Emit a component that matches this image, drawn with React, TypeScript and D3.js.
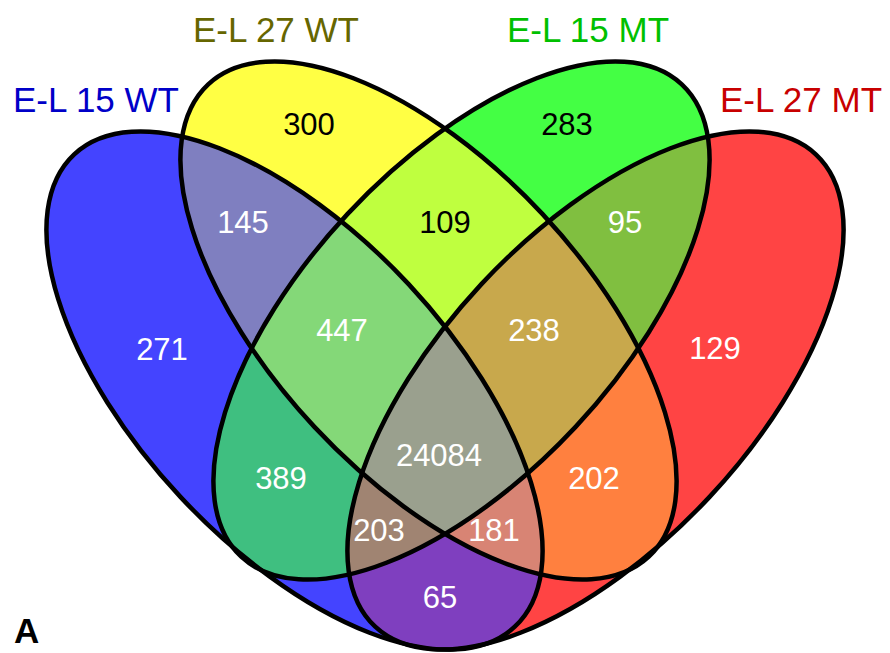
import * as d3 from "d3";

// sets, left to right
const setNames = ["E-L 15 WT", "E-L 27 WT", "E-L 15 MT", "E-L 27 MT"];
const setLabelColors = ["#0000c8", "#666600", "#00c000", "#c80000"];

// region membership (blue, yellow, green, red) and counts
const regionKeys = [
  "1000", "0100", "0010", "0001",
  "1100", "0110", "0011", "1010", "0101", "1001",
  "1110", "0111", "1011", "1101", "1111",
];
const regionCounts = [
  271, 300, 283, 129,
  145, 109, 95, 389, 202, 65,
  447, 238, 203, 181, 24084,
];
const regionFills = [
  "#4444ff", "#ffff44", "#44ff44", "#ff4444",
  "#7f7fc0", "#bfff3f", "#80bf40", "#3fbf80", "#ff803f", "#7f3fbf",
  "#84d878", "#c8a84c", "#a08472", "#d88474", "#9aa08e",
];
const darkLabels = ["0100", "0010", "0110"];

// layout
const W = 890;
const H = 653;
const RX = 323;
const RY = 156;
const ellipses = [
  { cx: 294.5, cy: 390.5, angle: 47 },
  { cx: 428.5, cy: 320.5, angle: 47 },
  { cx: 461.5, cy: 320.5, angle: -47 },
  { cx: 595.5, cy: 390.5, angle: -47 },
];
const setLabelPos = [
  [96, 112],
  [276, 42],
  [588, 42],
  [801, 112],
];
const regionLabelPos: Record<string, [number, number]> = {
  "1000": [162, 349],
  "0100": [309, 124],
  "0010": [567, 124],
  "0001": [715, 348],
  "1100": [243, 222],
  "0110": [445, 222],
  "0011": [625, 222],
  "1010": [281, 478],
  "0101": [594, 478],
  "1001": [440, 597],
  "1110": [342, 330],
  "0111": [534, 330],
  "1011": [379, 530],
  "1101": [494, 530],
  "1111": [439, 455],
};

const fillScale = d3.scaleOrdinal<string, string>().domain(regionKeys).range(regionFills);
const fmt = d3.format("d");
const FONT = "'Liberation Sans', Arial, sans-serif";

function Ell({ e, ...rest }: any) {
  return (
    <ellipse
      cx={e.cx}
      cy={e.cy}
      rx={RX}
      ry={RY}
      transform={`rotate(${e.angle} ${e.cx} ${e.cy})`}
      {...rest}
    />
  );
}

export default function App() {
  return (
    <div>
      <style>{"body{margin:0}"}</style>
      <svg width={W} height={H} style={{ display: "block" }} fontFamily={FONT}>
        <defs>
          {ellipses.map((e, j) => (
            <clipPath id={`clip${j}`} key={j}>
              <Ell e={e} />
            </clipPath>
          ))}
          {regionKeys.map((k, i) => (
            <mask id={`mask${i}`} key={k} maskUnits="userSpaceOnUse" x={0} y={0} width={W} height={H}>
              <rect width={W} height={H} fill="white" />
              {ellipses.map((e, j) => (k[j] === "0" ? <Ell key={j} e={e} fill="black" /> : null))}
            </mask>
          ))}
        </defs>
        <rect width={W} height={H} fill="white" />

        {regionKeys.map((k, i) => {
          let inner: any = <rect width={W} height={H} fill={fillScale(k)} />;
          ellipses.forEach((_, j) => {
            if (k[j] === "1") inner = <g clipPath={`url(#clip${j})`}>{inner}</g>;
          });
          return (
            <g key={k} mask={`url(#mask${i})`}>
              {inner}
            </g>
          );
        })}

        {ellipses.map((e, j) => (
          <Ell key={j} e={e} fill="none" stroke="#000" strokeWidth={4.5} />
        ))}

        {regionKeys.map((k, i) => {
          const [x, y] = regionLabelPos[k];
          return (
            <text
              key={k}
              x={x}
              y={y}
              dy="0.36em"
              textAnchor="middle"
              fontSize={31}
              fill={darkLabels.includes(k) ? "#000" : "#fff"}
            >
              {fmt(regionCounts[i])}
            </text>
          );
        })}

        {setNames.map((n, j) => (
          <text
            key={n}
            x={setLabelPos[j][0]}
            y={setLabelPos[j][1]}
            textAnchor="middle"
            fontSize={35}
            fill={setLabelColors[j]}
          >
            {n}
          </text>
        ))}

        <text x={14} y={643} fontSize={35} fontWeight="bold" fill="#000">
          A
        </text>
      </svg>
    </div>
  );
}
